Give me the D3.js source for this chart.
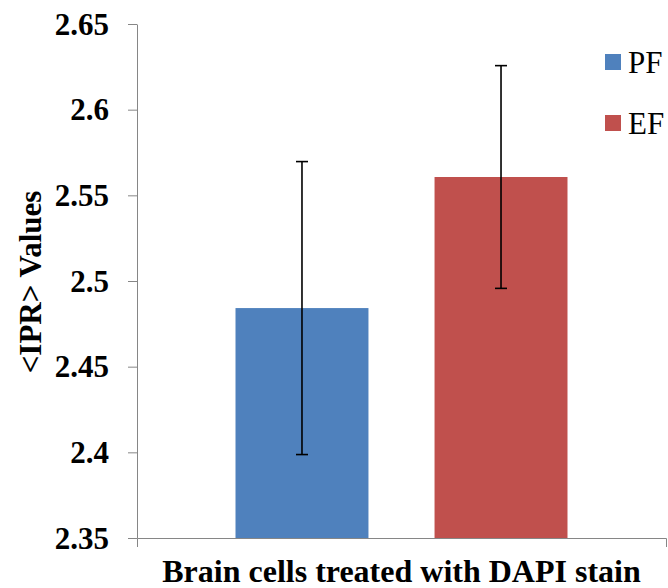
<!DOCTYPE html>
<html>
<head>
<meta charset="utf-8">
<script src="https://cdn.jsdelivr.net/npm/d3@7"></script>
<style>
  body { margin: 0; background: #fff; }
  svg text { font-family: "Liberation Serif", "Times New Roman", Times, "DejaVu Serif", serif !important; }
</style>
</head>
<body>
<div id="chart"></div>
<script>
// data
var categories = ["Brain cells treated with DAPI stain"];
var series = ["PF", "EF"];
var means = [2.4842, 2.5607];
var errors = [0.0855, 0.065];
var yTicks = [2.35, 2.4, 2.45, 2.5, 2.55, 2.6, 2.65];
var colors = ["#4F81BD", "#C0504D"];

var width = 668;
var height = 588;
var margin = ({top: 24, right: 2, bottom: 50, left: 137});

data = series.map(function(s, i) { return {"name": s, "value": means[i], "err": errors[i]} });

var svg = d3.select("#chart").append("svg")
  .attr("width", width)
  .attr("height", height);

x0 = d3.scaleBand()
  .domain(categories)
  .range([margin.left, width - margin.right])
  .paddingInner(0)
  .paddingOuter(0.2967);

x1 = d3.scaleBand()
  .domain(series)
  .range([0, x0.bandwidth()])
  .paddingInner(0.332);

y = d3.scaleLinear()
  .domain([2.35, 2.65])
  .range([height - margin.bottom, margin.top]);

// bars
svg.append("g")
  .selectAll("rect")
  .data(data)
  .enter().append("rect")
  .attr("x", d => x0(categories[0]) + x1(d.name))
  .attr("y", d => y(d.value))
  .attr("width", x1.bandwidth())
  .attr("height", d => y(2.35) - y(d.value))
  .attr("fill", (d, i) => colors[i]);

// error bars
var eb = svg.append("g")
  .attr("stroke", "#000")
  .attr("stroke-width", 1.6)
  .selectAll("g")
  .data(data)
  .enter().append("g")
  .attr("transform", d => `translate(${x0(categories[0]) + x1(d.name) + x1.bandwidth() / 2},0)`);

eb.append("line")
  .attr("y1", d => y(d.value + d.err))
  .attr("y2", d => y(d.value - d.err));
eb.append("line")
  .attr("x1", -6).attr("x2", 6)
  .attr("y1", d => y(d.value + d.err))
  .attr("y2", d => y(d.value + d.err));
eb.append("line")
  .attr("x1", -6).attr("x2", 6)
  .attr("y1", d => y(d.value - d.err))
  .attr("y2", d => y(d.value - d.err));

// axes
yAxis = g => g
  .attr("transform", `translate(${margin.left},0)`)
  .call(d3.axisLeft(y).tickValues(yTicks).tickFormat(d3.format("")).tickSizeInner(9).tickSizeOuter(0).tickPadding(19))
  .call(g => g.selectAll("path, line").attr("stroke", "#868686"))
  .call(g => g.selectAll("text")
    .attr("fill", "#000")
    .attr("font-weight", "bold")
    .attr("font-size", 31)
    .attr("dy", "0.33em"));

xAxis = g => g
  .attr("transform", `translate(0,${y(2.35)})`)
  .call(d3.axisBottom(x0).tickSizeInner(0).tickSizeOuter(9).tickFormat(""))
  .call(g => g.selectAll("path, line").attr("stroke", "#868686"));

svg.append("g").call(yAxis);
svg.append("g").call(xAxis);

// axis titles
svg.append("text")
  .attr("x", (margin.left + width - margin.right) / 2)
  .attr("y", 582)
  .attr("text-anchor", "middle")
  .attr("font-weight", "bold")
  .attr("font-size", 32)
  .text(categories[0]);

svg.append("text")
  .attr("transform", "translate(41,282) rotate(-90)")
  .attr("text-anchor", "middle")
  .attr("font-weight", "bold")
  .attr("font-size", 31)
  .text("<IPR> Values");

// legend
var legend = svg.append("g")
  .selectAll("g")
  .data(series)
  .enter().append("g")
  .attr("transform", (d, i) => `translate(605,${54 + i * 61})`);

legend.append("rect")
  .attr("width", 16)
  .attr("height", 16)
  .attr("fill", (d, i) => colors[i]);

legend.append("text")
  .attr("x", 23)
  .attr("y", 19)
  .attr("font-size", 31)
  .text(d => d);
</script>
</body>
</html>
